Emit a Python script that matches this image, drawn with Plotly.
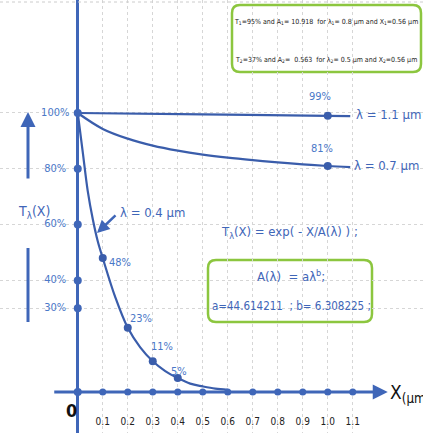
import plotly.graph_objects as go

# ---------------- data ----------------
x_ticks = [0.1, 0.2, 0.3, 0.4, 0.5, 0.6, 0.7, 0.8, 0.9, 1.0, 1.1]
x_tick_labels = ["0.1", "0.2", "0.3", "0.4", "0.5", "0.6", "0.7", "0.8", "0.9", "1.0", "1.1"]
y_ticks = [100, 80, 60, 40, 30]
y_tick_labels = ["100%", "80%", "60%", "40%", "30%"]

# transmission curves
lam04_x = [0, 0.02, 0.04, 0.06, 0.08, 0.1, 0.15, 0.2, 0.25, 0.3, 0.35, 0.4, 0.45, 0.5, 0.55, 0.6]
lam04_y = [100, 86, 72, 62, 54, 48, 34, 23, 16, 11, 7.5, 5, 3, 2, 1.2, 0.8]
lam07_x = [0, 0.1, 0.2, 0.3, 0.4, 0.5, 0.6, 0.7, 0.8, 0.9, 1.0, 1.09]
lam07_y = [100, 94.3, 90.8, 88.3, 86.5, 85.1, 84, 83.1, 82.3, 81.6, 81, 80.6]
lam11_x = [0, 0.5, 1.0, 1.09]
lam11_y = [100, 99.5, 99, 98.9]

pts04_x = [0.1, 0.2, 0.3, 0.4]
pts04_y = [48, 23, 11, 5]
pts04_txt = ["48%", "23%", "11%", "5%"]
pts07_x = [1.0]
pts07_y = [81]
pts07_txt = ["81%"]
pts11_x = [1.0]
pts11_y = [99]
pts11_txt = ["99%"]

# ---------------- style ----------------
BLUE = "#3f66b8"
LINE = "#3a5dab"
LABEL = "#4a78c8"
GREEN = "#8cc63f"
FONT = "DejaVu Sans Condensed, Liberation Sans Narrow, Arial Narrow, sans-serif"
W, H = 423, 433

def px(x):
    return x / W

def py(y):
    return 1 - y / H

fig = go.Figure()

for xs, ys in [(lam11_x, lam11_y), (lam07_x, lam07_y), (lam04_x, lam04_y)]:
    fig.add_trace(go.Scatter(x=xs, y=ys, mode="lines", line=dict(color=LINE, width=2.2, shape="spline"),
                             hoverinfo="skip", showlegend=False))

# axis dots
fig.add_trace(go.Scatter(x=[0] * (len(y_ticks) + 1), y=y_ticks + [0], mode="markers",
                         marker=dict(color=BLUE, size=8), showlegend=False, hoverinfo="skip"))
fig.add_trace(go.Scatter(x=x_ticks, y=[0] * len(x_ticks), mode="markers",
                         marker=dict(color=BLUE, size=7), showlegend=False, hoverinfo="skip"))
# curve dots
fig.add_trace(go.Scatter(x=pts04_x + pts07_x + pts11_x, y=pts04_y + pts07_y + pts11_y, mode="markers",
                         marker=dict(color=LINE, size=8), showlegend=False, hoverinfo="skip"))

# tick labels as text
fig.add_trace(go.Scatter(x=x_ticks, y=[-10.8] * len(x_ticks), mode="text", text=x_tick_labels,
                         textfont=dict(family=FONT, size=10, color="#222"), showlegend=False, hoverinfo="skip"))
fig.add_trace(go.Scatter(x=[-0.09] * len(y_ticks), y=y_ticks, mode="text", text=y_tick_labels,
                         textfont=dict(family=FONT, size=11, color=LABEL), showlegend=False, hoverinfo="skip"))

ann = []
# data labels
offsets = {"48%": (17, -4), "23%": (13, 9), "11%": (9, 15), "5%": (1, 7), "81%": (-6, 18), "99%": (-8, 19)}
for xs, ys, ts in [(pts04_x, pts04_y, pts04_txt), (pts07_x, pts07_y, pts07_txt), (pts11_x, pts11_y, pts11_txt)]:
    for xv, yv, t in zip(xs, ys, ts):
        dx, dy = offsets[t]
        ann.append(dict(x=xv, y=yv, text=t, showarrow=False, xshift=dx, yshift=dy,
                        xanchor="center", yanchor="middle",
                        font=dict(family=FONT, size=11, color=LABEL)))


def ptext(xp, yp, text, size, color=BLUE, xanchor="center"):
    return dict(x=px(xp), y=py(yp), xref="paper", yref="paper", text=text, showarrow=False,
                xanchor=xanchor, yanchor="middle", font=dict(family=FONT, size=size, color=color))

# x axis arrow
ann.append(dict(x=1.24, y=0, ax=-0.1, ay=0, axref="x", ayref="y", xref="x", yref="y", text="",
                showarrow=True, arrowhead=2, arrowsize=1, arrowwidth=3, arrowcolor=BLUE))
# origin label
ann.append(ptext(71, 410, "<b>0</b>", 18, "#111"))
# X(um) label
ann.append(ptext(388, 393, "X<sub>(μm)</sub>", 19, "#111", xanchor="left"))
# y title + arrow
ann.append(ptext(34, 212, "T<sub>λ</sub>(X)", 14))
ann.append(dict(x=px(28), y=py(112), xref="paper", yref="paper", ax=0, ay=68, text="", showarrow=True,
                arrowhead=2, arrowsize=1, arrowwidth=3, arrowcolor=BLUE))
# lambda labels
ann.append(ptext(354, 115, "λ = 1.1 μm", 13, xanchor="left"))
ann.append(ptext(352, 166, "λ = 0.7 μm", 13, xanchor="left"))
ann.append(ptext(152, 212, "λ = 0.4 μm", 13))
ann.append(dict(x=0.077, y=57, xref="x", yref="y", ax=20, ay=-19, text="", showarrow=True,
                arrowhead=2, arrowsize=1, arrowwidth=2.5, arrowcolor=BLUE))
# formula
ann.append(ptext(289, 232, "T<sub>λ</sub>(X) = exp( - X/A(λ) ) ;", 13))
ann.append(ptext(291, 276, "A(λ)  = aλ<sup>b</sup>;", 13))
ann.append(ptext(291, 306, "a=44.614211  ; b= 6.308225 ;", 11.5))
# top box text
ann.append(ptext(326, 22, "T<sub>1</sub>=95% and A<sub>1</sub>= 10.918  for λ<sub>1</sub>= 0.8 μm and X<sub>1</sub>=0.56 μm",
                 7, "#222"))
ann.append(ptext(326, 60, "T<sub>2</sub>=37% and A<sub>2</sub>=  0.563  for λ<sub>2</sub>= 0.5 μm and X<sub>2</sub>=0.56 μm",
                 7, "#222"))


def rounded(x0p, y0p, x1p, y1p, r=8):
    x0, x1 = px(x0p), px(x1p)
    y0, y1 = py(y1p), py(y0p)
    rx, ry = r / W, r / H
    return (f"M {x0+rx},{y0} L {x1-rx},{y0} Q {x1},{y0} {x1},{y0+ry} L {x1},{y1-ry} Q {x1},{y1} {x1-rx},{y1} "
            f"L {x0+rx},{y1} Q {x0},{y1} {x0},{y1-ry} L {x0},{y0+ry} Q {x0},{y0} {x0+rx},{y0} Z")

shapes = [
    dict(type="path", xref="paper", yref="paper", path=rounded(232, 5, 421, 72), line=dict(color=GREEN, width=2.5),
         fillcolor="white", layer="below"),
    dict(type="path", xref="paper", yref="paper", path=rounded(208, 260, 372, 322), line=dict(color=GREEN, width=2.5),
         fillcolor="white", layer="below"),
    dict(type="line", xref="paper", yref="paper", x0=px(28), x1=px(28), y0=py(248), y1=py(322),
         line=dict(color=BLUE, width=3)),
    dict(type="line", xref="paper", yref="paper", x0=0, x1=1, y0=py(2), y1=py(2),
         line=dict(color="#cccccc", width=1, dash="dot")),
]

fig.update_layout(
    width=W, height=H, margin=dict(l=0, r=0, t=0, b=0),
    paper_bgcolor="white", plot_bgcolor="rgba(0,0,0,0)",
    annotations=ann, shapes=shapes, showlegend=False,
    xaxis=dict(range=[-0.311, 1.381], tickvals=x_ticks, showticklabels=False, showgrid=True,
               gridcolor="#d6d6d6", griddash="dot", gridwidth=1, zeroline=True, zerolinecolor=BLUE,
               zerolinewidth=3, showline=False, fixedrange=True),
    yaxis=dict(range=[-14.7, 140.5], tickvals=y_ticks, showticklabels=False, showgrid=True,
               gridcolor="#d6d6d6", griddash="dot", gridwidth=1, zeroline=False, showline=False,
               fixedrange=True),
)

fig.write_html("out.html", config={"displayModeBar": False},
               post_script="document.body.style.margin='0px';document.body.style.overflow='hidden';")
